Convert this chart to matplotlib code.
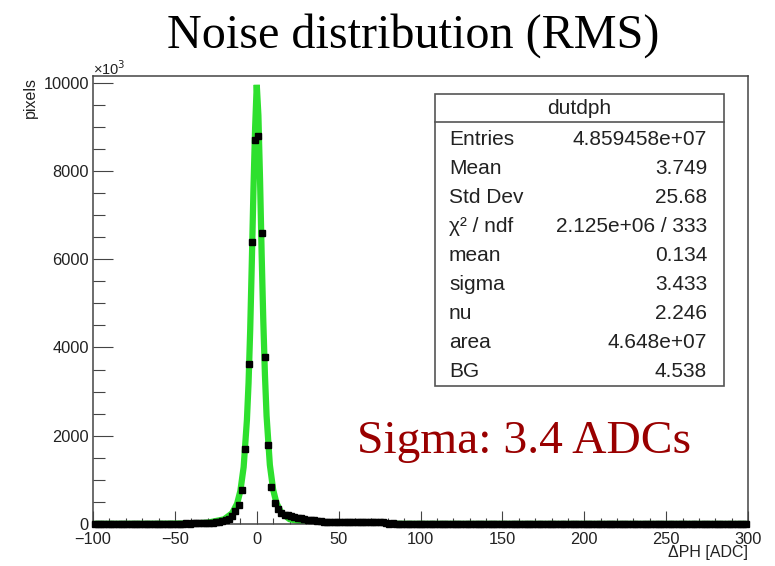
import numpy as np
import matplotlib
matplotlib.use("Agg")
import matplotlib.pyplot as plt
import matplotlib.patches as patches
from matplotlib.ticker import MultipleLocator

# histogram "dutdph": 200 bins of width 2 from -100 to 300 (values in units of 10^3)
bin_lo, bin_hi, bin_w = -100, 300, 2
counts_left_flat = [9, 8, 9, 10, 9, 8, 9, 10, 9, 9, 10, 9, 8, 9, 10, 10,
                    9, 10, 10, 9, 10, 11, 10, 10, 11, 11, 10, 11, 12, 11, 12, 13]   # -99 .. -37
counts_core = [15, 18, 22, 27, 32, 38, 48, 62, 82, 115, 180, 300, 420, 780,
               1710, 3620, 6390, 8690, 8800, 6600, 3780, 1790, 830, 480, 330,
               255, 215, 195, 175, 160, 145, 125, 110, 100, 90, 80, 70, 62, 56,
               50, 47, 45, 44, 43, 42, 41, 40, 40, 39, 39, 38, 38, 37, 37, 36,
               36, 35]                                                           # -35 .. 77
counts_right_flat = [12, 11, 12, 11, 11, 10, 11, 10, 10, 11, 10, 10, 9, 10, 10,
                     9, 10, 9, 9, 10, 9, 9, 9, 8, 9, 9, 8, 9, 8, 8, 9, 8, 8, 8,
                     9, 8, 8, 7, 8, 8, 7, 8, 8, 7, 7, 8, 7, 7, 8, 7, 7, 7, 6, 7,
                     7, 7, 6, 7, 6, 7, 6, 6, 7, 6, 6, 6, 7, 6, 6, 5, 6, 6, 6, 5,
                     6, 6, 5, 6, 5, 5, 6, 5, 5, 5, 6, 5, 5, 5, 4, 5, 5, 5, 4, 5,
                     5, 4, 5, 4, 4, 5, 4, 4, 5, 4, 4, 4, 5, 4, 4, 4, 4]          # 79 .. 299

# student-t fit curve
fit_x = [-100, -60, -40, -30, -20, -15, -12, -10, -8, -6, -5, -4, -3, -2, -1, 0,
         1, 2, 3, 4, 5, 6, 8, 10, 12, 15, 20, 30, 40, 60, 100, 300]
fit_y = [3, 6, 12, 30, 105, 245, 460, 750, 1290, 2360, 3200, 4400, 5950, 7600,
         8970, 9950, 9260, 7820, 6100, 4600, 3380, 2450, 1340, 780, 480, 255,
         110, 31, 12, 6, 3, 1]

stat_names = ["Entries", "Mean", "Std Dev", "\u03c7\u00b2 / ndf", "mean", "sigma", "nu", "area", "BG"]
stat_values = ["4.859458e+07", "3.749", "25.68", "2.125e+06 / 333", "0.134",
               "3.433", "2.246", "4.648e+07", "4.538"]

W, H = 775, 566
def fx(px):
    return px / W
def fy(py):
    return 1 - py / H

sans = "Liberation Sans"
serif = "Liberation Serif"
framec = "#444444"

fig = plt.figure(figsize=(W / 100, H / 100), dpi=100)
ax = fig.add_axes([fx(93), fy(524), fx(748) - fx(93), fy(76) - fy(524)])

counts = counts_left_flat + counts_core + counts_right_flat
centers = np.arange(bin_lo + bin_w / 2, bin_hi, bin_w)

ax.plot(fit_x, fit_y, color="#2ee02e", lw=4.5, solid_joinstyle="miter", zorder=2)
ax.plot(centers, counts, ls="none", marker="s", ms=5, color="black", zorder=3, clip_on=False)

ax.set_xlim(bin_lo, bin_hi)
ax.set_ylim(0, 10150)
ax.xaxis.set_major_locator(MultipleLocator(50))
ax.xaxis.set_minor_locator(MultipleLocator(10))
ax.yaxis.set_major_locator(MultipleLocator(2000))
ax.yaxis.set_minor_locator(MultipleLocator(500))
ax.tick_params(axis="y", which="major", direction="in", length=14.5, width=0.8, color=framec, pad=3)
ax.tick_params(axis="y", which="minor", direction="in", length=8.5, width=0.8, color=framec)
ax.tick_params(axis="x", which="major", direction="in", length=9.5, width=0.8, color=framec, pad=6)
ax.tick_params(axis="x", which="minor", direction="in", length=4.5, width=0.8, color=framec)
for lab in ax.get_xticklabels() + ax.get_yticklabels():
    lab.set_fontfamily(sans)
    lab.set_fontsize(11.8)
    lab.set_color("#222222")
for sp in ax.spines.values():
    sp.set_color(framec)
    sp.set_linewidth(1.1)

fig.text(fx(30), fy(77), "pixels", rotation=90, ha="center", va="top",
         family=sans, fontsize=11.5, color="#222222")
fig.text(fx(748), fy(553), "\u0394PH [ADC]", ha="right", va="center",
         family=sans, fontsize=11.5, color="#222222")
fig.text(fx(93), fy(69), "\u00d710$^{3}$", ha="left", va="center",
         family=sans, fontsize=10.5, color="#222222")

fig.text(fx(413.5), fy(48), "Noise distribution (RMS)", ha="center", va="baseline",
         family=serif, fontsize=34.7, color="black")

# stats box
box = patches.Rectangle((fx(435), fy(386)), fx(724) - fx(435), fy(94) - fy(386),
                        transform=fig.transFigure, facecolor="white", edgecolor="#555555",
                        lw=1.2, zorder=5)
fig.add_artist(box)
fig.add_artist(plt.Line2D([fx(435), fx(724)], [fy(122), fy(122)], transform=fig.transFigure,
                          color="#555555", lw=1.2, zorder=6))
fig.text(fx(579.5), fy(108), "dutdph", ha="center", va="center", family=sans,
         fontsize=15, color="#222222", zorder=7)
for i in range(len(stat_names)):
    yy = 139.3 + i * 29.05
    fig.text(fx(449), fy(yy), stat_names[i], ha="left", va="center", family=sans,
             fontsize=15, color="#222222", zorder=7)
    fig.text(fx(707), fy(yy), stat_values[i], ha="right", va="center", family=sans,
             fontsize=15, color="#222222", zorder=7)

fig.text(fx(356.7), fy(453.3), "Sigma: 3.4 ADCs", ha="left", va="baseline",
         family=serif, fontsize=34.2, color="#990000")

fig.savefig("out.png", dpi=100)
